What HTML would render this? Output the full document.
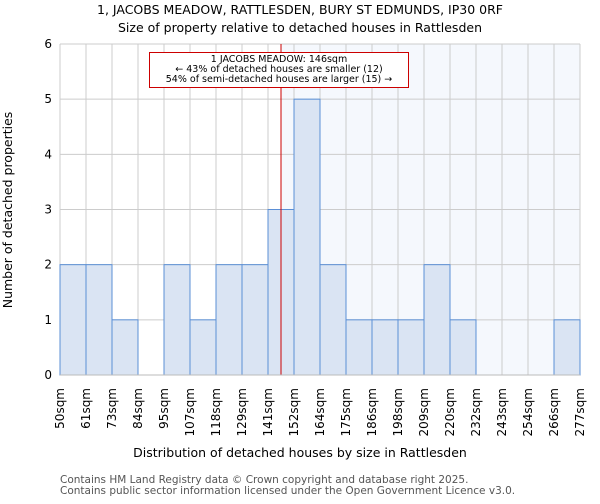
<!DOCTYPE html>
<html><head><meta charset="utf-8"><style>
body{margin:0;background:#fff;font-family:"DejaVu Sans","Liberation Sans",sans-serif;}
svg text{font-family:"DejaVu Sans","Liberation Sans",sans-serif;}
</style></head><body>
<svg id="chart" width="600" height="500" xmlns="http://www.w3.org/2000/svg">
<text x="300" y="14" text-anchor="middle" font-size="12.5" fill="#000">1, JACOBS MEADOW, RATTLESDEN, BURY ST EDMUNDS, IP30 0RF</text>
<text x="300" y="32" text-anchor="middle" font-size="12.5" fill="#000">Size of property relative to detached houses in Rattlesden</text>
<g id="plot"></g>
<text x="300" y="457" text-anchor="middle" font-size="12.5">Distribution of detached houses by size in Rattlesden</text>
<text transform="translate(12,210) rotate(-90)" text-anchor="middle" font-size="12.5">Number of detached properties</text>
<text x="60" y="483" font-size="10.5" fill="#555">Contains HM Land Registry data © Crown copyright and database right 2025.</text>
<text x="60" y="494" font-size="10.5" fill="#555">Contains public sector information licensed under the Open Government Licence v3.0.</text>
</svg>
<script>
const binLabels=["50sqm","61sqm","73sqm","84sqm","95sqm","107sqm","118sqm","129sqm","141sqm","152sqm","164sqm","175sqm","186sqm","198sqm","209sqm","220sqm","232sqm","243sqm","254sqm","266sqm","277sqm"];
const counts=[2,2,1,0,2,1,2,2,3,5,2,1,1,1,2,1,0,0,0,1];
const yTicks=[0,1,2,3,4,5,6];
const markerIndex=8.5;
const NS="http://www.w3.org/2000/svg";
const X0=60,X1=580,Y0=375,Y1=44,yMax=6;
const bw=(X1-X0)/counts.length;
const xs=i=>X0+i*bw;
const ys=v=>Y0-(v/yMax)*(Y0-Y1);
const g=document.getElementById('plot');
function mk(t,a){const e=document.createElementNS(NS,t);for(const k in a)e.setAttribute(k,a[k]);g.appendChild(e);return e;}
const mx=xs(markerIndex);
let e=mk('rect',{x:mx,y:Y1,width:X1-mx,height:Y0-Y1,fill:'#f5f8fd'});


for(let i=0;i<binLabels.length;i++){
 e=mk('line',{x1:xs(i),x2:xs(i),y1:Y1,y2:Y0,stroke:'#cccccc','stroke-width':1});
 
 
}
yTicks.forEach(t=>{
 e=mk('line',{x1:X0,x2:X1,y1:ys(t),y2:ys(t),stroke:'#cccccc','stroke-width':1});
 
 
 e=mk('text',{x:X0-8,y:ys(t)+4,'text-anchor':'end','font-size':12});
 e.textContent=t;
 
 
});
counts.forEach((c,i)=>{
 if(c<=0)return;
 e=mk('rect',{x:xs(i),y:ys(c),width:bw,height:Y0-ys(c),fill:'#dae4f3',stroke:'#5b8fd6','stroke-width':1});
 
 
});
binLabels.forEach((l,i)=>{
 e=mk('text',{transform:`translate(${xs(i)+4},388) rotate(-90)`,'text-anchor':'end','font-size':12});
 e.textContent=l;
 
 
});
e=mk('line',{x1:mx,x2:mx,y1:Y1,y2:Y0,stroke:'#cc0000','stroke-width':1});


e=mk('rect',{x:149.5,y:52.5,width:259,height:35,fill:'#fff',stroke:'#cc0000','stroke-width':1});


["1 JACOBS MEADOW: 146sqm","← 43% of detached houses are smaller (12)","54% of semi-detached houses are larger (15) →"].forEach((s,k)=>{
 e=mk('text',{x:279,y:62+k*10,'text-anchor':'middle','font-size':9.5});
 e.textContent=s;
 
 
});
e=mk('line',{x1:X0,x2:X1,y1:Y0,y2:Y0,stroke:'#bbbbbb','stroke-width':1});


</script>
</body></html>
